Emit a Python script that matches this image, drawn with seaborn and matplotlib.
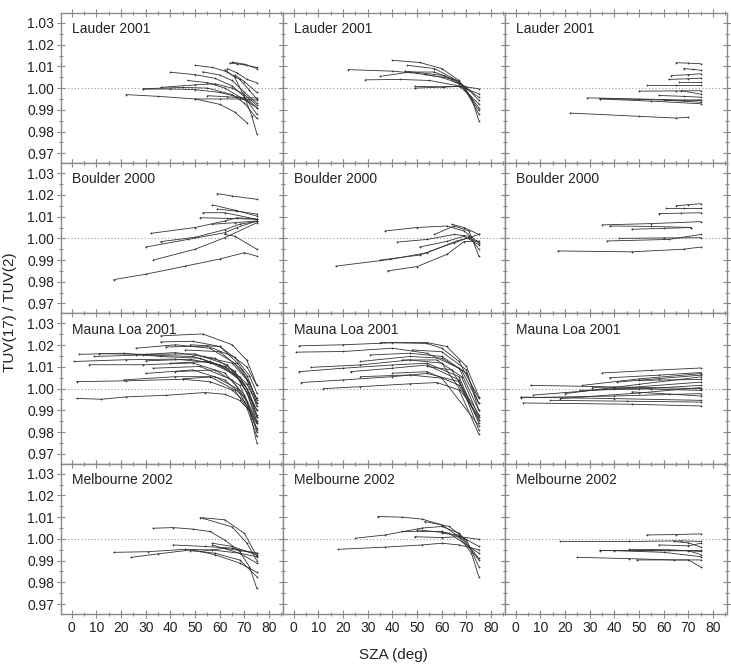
import numpy as np
import pandas as pd
import matplotlib
matplotlib.use("Agg")
import matplotlib.pyplot as plt
from matplotlib.ticker import MultipleLocator
import seaborn as sns

sns.set_theme(style="white")
plt.rcParams['font.family'] = ['Liberation Sans', 'DejaVu Sans']

STATIONS = ["Lauder 2001", "Boulder 2000", "Mauna Loa 2001", "Melbourne 2002"]
X_TICKS = [0, 10, 20, 30, 40, 50, 60, 70, 80]
Y_TICKS = [0.97, 0.98, 0.99, 1.00, 1.01, 1.02, 1.03]

# Each curve: list of (SZA, ratio) points
LAUDER_1 = [
    [(22, 0.997), (35, 0.9962), (50, 0.995), (60, 0.9925), (66, 0.989), (71, 0.984)],
    [(29, 0.9995), (40, 0.9996), (50, 0.9993), (60, 0.998), (67, 0.996), (72, 0.994), (75, 0.991)],
    [(29, 0.9997), (45, 1.0003), (55, 1.0), (65, 0.997), (70, 0.993), (75, 0.986)],
    [(40, 1.0073), (50, 1.0062), (58, 1.0045), (65, 1.001), (70, 0.996), (75, 0.988)],
    [(50, 1.0105), (57, 1.0095), (63, 1.0075), (68, 1.004), (72, 0.999), (75, 0.995)],
    [(53, 1.0075), (60, 1.006), (65, 1.0035), (70, 0.998), (75, 0.993)],
    [(64, 1.0115), (67, 1.0112), (71, 1.0105), (75, 1.0095)],
    [(65, 1.012), (70, 1.011), (75, 1.009)],
    [(63, 1.009), (67, 1.007), (71, 1.004), (75, 1.0025)],
    [(62, 1.0085), (66, 1.005), (70, 0.996), (73, 0.987), (75, 0.979)],
    [(50, 0.995), (60, 0.995), (68, 0.995), (75, 0.9945)],
    [(47, 1.0035), (55, 1.0025), (62, 1.0), (68, 0.996), (75, 0.991)],
    [(36, 1.0003), (50, 1.0015), (58, 1.002), (65, 1.0), (70, 0.997), (75, 0.992)],
    [(55, 0.9965), (63, 0.996), (70, 0.9955), (75, 0.9955)],
    [(66, 1.006), (70, 1.003), (75, 0.998)],
]
LAUDER_2 = [
    [(22, 1.0085), (40, 1.0078), (50, 1.0068), (60, 1.005), (67, 1.002), (71, 0.999), (75, 0.9958)],
    [(40, 1.0128), (51, 1.0118), (60, 1.009), (67, 1.0035), (72, 0.9958), (75, 0.985)],
    [(46, 1.0105), (57, 1.009), (67, 1.003), (75, 0.991)],
    [(29, 1.0038), (43, 1.004), (55, 1.0035), (67, 1.001), (75, 0.9928)],
    [(35, 1.0054), (47, 1.0074), (57, 1.0074), (67, 1.003), (75, 0.9897)],
    [(49, 1.0), (61, 1.0005), (68, 1.0008), (75, 0.9997)],
    [(49, 1.0008), (60, 1.0006), (67, 1.0008), (75, 0.9974)],
    [(53, 1.0063), (64, 1.0043), (70, 1.0005), (75, 0.9943)],
    [(45, 1.0078), (61, 1.0058), (69, 1.0005), (75, 0.988)],
]
LAUDER_3 = [
    [(22, 0.9885), (50, 0.987), (65, 0.9862), (70, 0.9866)],
    [(29, 0.9955), (50, 0.995), (75, 0.9943)],
    [(34, 0.995), (55, 0.994), (75, 0.9928)],
    [(34, 0.9952), (60, 0.9945), (75, 0.9935)],
    [(50, 0.9986), (65, 0.9987), (75, 0.9988)],
    [(53, 1.0012), (65, 1.0012), (75, 1.0012)],
    [(62, 1.004), (70, 1.0043), (75, 1.0046)],
    [(63, 1.0058), (70, 1.0062), (75, 1.0066)],
    [(65, 1.0117), (70, 1.0115), (75, 1.0112)],
    [(67, 0.9988), (75, 0.9972)],
    [(58, 0.9966), (68, 0.9962), (75, 0.9958)],
    [(61, 0.9943), (68, 0.9944), (75, 0.9946)],
    [(66, 1.0028), (75, 1.0028)],
    [(68, 1.009), (72, 1.0086), (75, 1.0082)],
]
BOULDER_1 = [
    [(17, 0.981), (30, 0.9835), (46, 0.9872), (60, 0.9905), (70, 0.9934), (75, 0.9918)],
    [(32, 1.0023), (50, 1.005), (62, 1.008), (67, 1.0095), (75, 1.0088)],
    [(30, 0.996), (47, 0.9995), (62, 1.0026), (67, 1.005), (75, 1.008)],
    [(33, 0.990), (50, 0.995), (62, 1.0003), (75, 1.0072)],
    [(36, 0.9985), (50, 1.0005), (62, 1.004), (68, 1.0065), (75, 1.0078)],
    [(59, 1.0206), (65, 1.0195), (75, 1.018)],
    [(57, 1.0154), (66, 1.013), (75, 1.0103)],
    [(53, 1.0118), (62, 1.0118), (75, 1.0088)],
    [(52, 1.0095), (63, 1.0092), (75, 1.0088)],
    [(59, 1.0135), (67, 1.0125), (75, 1.0112)],
    [(62, 1.0018), (66, 1.001), (75, 0.995)],
    [(57, 1.0065), (66, 1.0072), (75, 1.008)],
]
BOULDER_2 = [
    [(17, 0.9872), (39, 0.9903), (54, 0.9934), (66, 0.9988), (71, 1.0003), (75, 1.0018)],
    [(38, 0.985), (50, 0.987), (62, 0.9926), (69, 0.9985), (75, 0.9988)],
    [(35, 0.990), (51, 0.9923), (65, 0.998), (71, 1.0003), (75, 0.998)],
    [(37, 1.0034), (50, 1.005), (62, 1.0057), (69, 1.0034), (75, 0.998)],
    [(42, 0.9983), (54, 0.9995), (65, 1.0018), (71, 1.001), (75, 0.995)],
    [(51, 0.996), (62, 0.9986), (69, 1.001), (75, 0.997)],
    [(57, 1.0018), (65, 1.0057), (71, 1.0034), (75, 0.9918)],
    [(64, 1.0065), (69, 1.005), (75, 1.0018)],
]
BOULDER_3 = [
    [(17, 0.9942), (47, 0.9938), (68, 0.995), (75, 0.996)],
    [(37, 0.9988), (62, 0.9995), (75, 1.0018)],
    [(42, 1.0), (60, 1.0002), (75, 1.0003)],
    [(35, 1.0062), (55, 1.0068), (75, 1.0077)],
    [(38, 1.0057), (55, 1.0055), (71, 1.005)],
    [(47, 1.0042), (60, 1.0046), (71, 1.005)],
    [(58, 1.0114), (67, 1.0116), (75, 1.0118)],
    [(61, 1.0142), (68, 1.0142), (75, 1.0142)],
    [(65, 1.015), (70, 1.0155), (75, 1.016)],
]
MAUNALOA_1 = [
    [(2, 0.9955), (12, 0.9951), (22, 0.9962), (38, 0.9969), (54, 0.9982), (62, 0.9974), (68, 0.9946), (72, 0.990), (75, 0.982)],
    [(2, 1.0032), (22, 1.0036), (45, 1.0043), (56, 1.0032), (65, 0.9994), (70, 0.994), (75, 0.984)],
    [(1, 1.0125), (22, 1.0133), (42, 1.0136), (56, 1.0120), (68, 1.0055), (72, 0.998), (75, 0.987)],
    [(3, 1.0158), (21, 1.0163), (36, 1.0148), (52, 1.014), (65, 1.0086), (71, 1.002), (75, 0.9932)],
    [(7, 1.011), (29, 1.011), (49, 1.0118), (62, 1.0072), (70, 0.997), (75, 0.981)],
    [(21, 1.004), (42, 1.0055), (56, 1.0055), (66, 0.9994), (71, 0.991), (75, 0.978)],
    [(26, 1.0186), (42, 1.0202), (56, 1.0186), (66, 1.0117), (72, 1.003), (75, 0.9932)],
    [(36, 1.0243), (53, 1.0252), (65, 1.0202), (71, 1.013), (75, 1.0015)],
    [(30, 1.007), (49, 1.0086), (62, 1.004), (70, 0.996), (75, 0.984)],
    [(9, 1.0148), (29, 1.0155), (49, 1.0148), (62, 1.0102), (70, 1.002), (75, 0.9902)],
    [(26, 1.0155), (42, 1.0166), (58, 1.014), (66, 1.008), (71, 0.998), (75, 0.987)],
    [(36, 1.0215), (49, 1.0218), (60, 1.0194), (67, 1.012), (71, 1.006), (75, 0.9948)],
    [(40, 1.0117), (56, 1.0125), (66, 1.007), (71, 0.998), (75, 0.985)],
    [(33, 1.0094), (52, 1.0102), (65, 1.004), (71, 0.994), (75, 0.980)],
    [(46, 1.0178), (60, 1.017), (69, 1.0086), (75, 0.9955)],
    [(48, 1.0202), (60, 1.0194), (71, 1.010), (75, 1.0015)],
    [(42, 1.0078), (58, 1.0086), (68, 1.0016), (75, 0.985)],
    [(11, 1.0161), (30, 1.0158), (50, 1.016), (63, 1.011), (71, 1.0), (75, 0.988)],
    [(53, 1.0148), (65, 1.0117), (71, 1.004), (75, 0.9918)],
    [(30, 1.0128), (48, 1.0135), (60, 1.011), (68, 1.004), (75, 0.990)],
    [(45, 1.0045), (58, 1.0055), (67, 1.0), (72, 0.990), (75, 0.975)],
    [(38, 1.0192), (55, 1.0196), (66, 1.0145), (72, 1.006), (75, 0.998)],
]
MAUNALOA_2 = [
    [(2, 1.0197), (20, 1.0202), (40, 1.0211), (54, 1.0208), (60, 1.0186), (67, 1.0125), (75, 0.9955)],
    [(1, 1.0168), (20, 1.0171), (40, 1.0186), (54, 1.0163), (67, 1.0094), (75, 0.990)],
    [(2, 1.0078), (20, 1.0094), (40, 1.0109), (54, 1.0117), (67, 1.0055), (75, 0.984)],
    [(3, 1.0028), (20, 1.004), (40, 1.0055), (54, 1.007), (67, 1.0032), (75, 0.9855)],
    [(12, 1.0), (27, 1.0009), (47, 1.0022), (58, 1.0028), (67, 0.9994), (75, 0.979)],
    [(7, 1.0098), (27, 1.0109), (47, 1.0132), (60, 1.0117), (75, 0.987)],
    [(23, 1.0078), (40, 1.0094), (54, 1.0109), (67, 1.004), (75, 0.981)],
    [(27, 1.0125), (47, 1.0148), (60, 1.014), (70, 1.0071), (75, 0.9932)],
    [(35, 1.0212), (54, 1.0212), (62, 1.0194), (70, 1.0102), (75, 0.9962)],
    [(31, 1.0155), (47, 1.0163), (60, 1.0148), (68, 1.0086), (75, 0.9932)],
    [(40, 1.0071), (54, 1.0078), (67, 1.0016), (75, 0.9855)],
    [(44, 1.0132), (58, 1.0132), (68, 1.0055), (75, 0.987)],
    [(48, 1.0178), (60, 1.017), (70, 1.0086), (75, 0.990)],
    [(27, 1.0055), (47, 1.0063), (60, 1.0048), (75, 0.983)],
    [(54, 1.0102), (64, 1.0086), (75, 0.988)],
]
MAUNALOA_3 = [
    [(2, 0.9958), (40, 0.9966), (75, 0.9977)],
    [(3, 0.9934), (47, 0.9928), (75, 0.992)],
    [(2, 0.9961), (40, 0.9954), (75, 0.9946)],
    [(6, 1.0015), (40, 1.0008), (75, 1.0)],
    [(7, 0.997), (40, 1.0), (75, 1.003)],
    [(20, 0.9977), (50, 1.002), (75, 1.0054)],
    [(26, 0.9992), (50, 0.9998), (75, 1.0015)],
    [(27, 1.0015), (50, 1.0045), (75, 1.0069)],
    [(35, 1.0072), (55, 1.0084), (75, 1.0095)],
    [(38, 1.005), (58, 1.0062), (75, 1.0074)],
    [(41, 1.003), (58, 1.0046), (75, 1.0062)],
    [(31, 1.0005), (55, 0.9998), (75, 0.9992)],
    [(47, 0.9985), (62, 0.9975), (75, 0.9966)],
    [(14, 0.9946), (45, 0.9942), (75, 0.9938)],
    [(50, 1.0038), (62, 1.004), (75, 1.0042)],
    [(18, 0.9954), (50, 0.998), (75, 1.0005)],
]
MELBOURNE_1 = [
    [(17, 0.9938), (31, 0.9941), (46, 0.9952), (57, 0.9949), (68, 0.9934), (75, 0.9918)],
    [(24, 0.9915), (35, 0.9931), (49, 0.995), (58, 0.9927), (68, 0.9889), (75, 0.9846)],
    [(33, 1.0049), (41, 1.0052), (49, 1.0045), (56, 1.0034), (62, 0.9995), (68, 0.9942), (72, 0.9872), (75, 0.9772)],
    [(52, 1.0098), (62, 1.0088), (70, 1.0025), (75, 0.992)],
    [(53, 1.0095), (65, 1.0055), (71, 0.998), (75, 0.990)],
    [(41, 0.9972), (54, 0.9965), (65, 0.9957), (75, 0.9934)],
    [(57, 0.998), (65, 0.9965), (75, 0.9926)],
    [(57, 0.9972), (68, 0.9934), (75, 0.9888)],
    [(48, 0.9946), (58, 0.9934), (68, 0.9903), (75, 0.9826)],
    [(52, 0.9942), (62, 0.9957), (75, 0.9934)],
]
MELBOURNE_2 = [
    [(34, 1.0103), (44, 1.01), (52, 1.0091), (60, 1.0065), (67, 1.001), (72, 0.9934), (75, 0.9826)],
    [(18, 0.9952), (37, 0.9962), (52, 0.9972), (60, 0.998), (67, 0.9972), (75, 0.995)],
    [(25, 1.0003), (37, 1.0018), (52, 1.005), (60, 1.0057), (67, 1.0026), (75, 0.991)],
    [(53, 1.008), (63, 1.0057), (70, 0.9995), (75, 0.9872)],
    [(49, 1.001), (60, 1.0006), (67, 1.001), (75, 0.9998)],
    [(44, 1.0034), (60, 1.0034), (69, 1.0003), (75, 0.9965)],
    [(50, 1.0042), (63, 1.0026), (75, 0.9934)],
    [(60, 1.0026), (67, 1.0018), (75, 0.9903)],
]
MELBOURNE_3 = [
    [(18, 0.9988), (46, 0.9988), (67, 0.9991), (75, 0.9988)],
    [(53, 1.0018), (65, 1.002), (75, 1.0023)],
    [(25, 0.9915), (46, 0.9909), (64, 0.9903), (75, 0.9903)],
    [(34, 0.9949), (55, 0.9949), (75, 0.9949)],
    [(34, 0.9946), (70, 0.9945), (75, 0.9928)],
    [(49, 0.9903), (70, 0.9903), (75, 0.987)],
    [(58, 0.9972), (70, 0.9968), (75, 0.998)],
    [(46, 0.9952), (62, 0.995), (75, 0.9942)],
    [(64, 0.9988), (70, 0.9982), (75, 0.9962)],
    [(40, 0.9946), (60, 0.9938), (75, 0.9918)],
]

PANELS = [
    [LAUDER_1, LAUDER_2, LAUDER_3],
    [BOULDER_1, BOULDER_2, BOULDER_3],
    [MAUNALOA_1, MAUNALOA_2, MAUNALOA_3],
    [MELBOURNE_1, MELBOURNE_2, MELBOURNE_3],
]


def to_frame(curves):
    rows = []
    for ci, curve in enumerate(curves):
        for sza, ratio in curve:
            rows.append({"curve": ci, "sza": sza, "ratio": ratio})
    return pd.DataFrame(rows)


fig, axes = plt.subplots(4, 3, figsize=(7.31, 6.72), dpi=100, sharex=True, sharey=True)
fig.subplots_adjust(left=0.0834, right=0.9945, top=0.9807, bottom=0.0863, wspace=0, hspace=0)

frame_col = "#8a8a8a"
line_col = "#333333"
for r in range(4):
    for c in range(3):
        ax = axes[r, c]
        df = to_frame(PANELS[r][c])
        ax.axhline(1.0, color="#9a9a9a", lw=0.8, ls=(0, (1, 2)), zorder=1)
        sns.lineplot(data=df, x="sza", y="ratio", units="curve", estimator=None,
                     color=line_col, lw=0.6, marker="+", markersize=1.8,
                     markeredgewidth=0.5, markeredgecolor=line_col,
                     sort=False, ax=ax, legend=False, zorder=3)
        ax.set_xlim(-4.4, 85.6)
        ax.set_ylim(0.9654, 1.0346)
        ax.set_xlabel("")
        ax.set_ylabel("")
        ax.xaxis.set_major_locator(plt.FixedLocator(X_TICKS))
        ax.xaxis.set_minor_locator(MultipleLocator(5))
        ax.yaxis.set_major_locator(plt.FixedLocator(Y_TICKS))
        ax.yaxis.set_minor_locator(MultipleLocator(0.005))
        ax.tick_params(which="both", direction="inout", top=True, right=True,
                       bottom=True, left=True, color=frame_col, width=0.8)
        ax.tick_params(which="major", length=6, labelsize=10, labelcolor="#222222", pad=2)
        ax.tick_params(which="minor", length=3)
        for s in ax.spines.values():
            s.set_color(frame_col)
            s.set_linewidth(1.0)
        ax.text(0.05, 0.94, STATIONS[r], transform=ax.transAxes, ha="left", va="top",
                fontsize=10, color="#222222")
        if c == 0:
            ax.set_yticklabels([f"{v:.2f}" for v in Y_TICKS])
        if r == 3:
            ax.set_xticklabels([str(v) for v in X_TICKS])

fig.text(0.538, 0.025, "SZA (deg)", ha="center", va="center", fontsize=11, color="#222222")
fig.text(0.013, 0.535, "TUV(17) / TUV(2)", ha="center", va="center", rotation=90,
         fontsize=11, color="#222222")

fig.savefig("out.png", dpi=100, facecolor="white")
